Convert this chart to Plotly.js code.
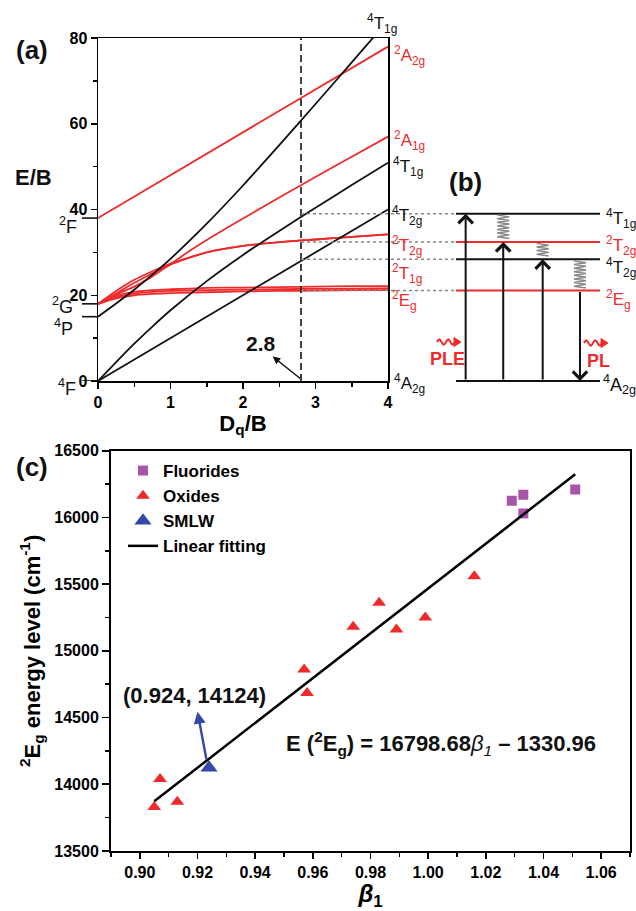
<!DOCTYPE html>
<html><head><meta charset="utf-8">
<script src="https://cdn.plot.ly/plotly-3.0.1.min.js"></script>
<style>html,body{margin:0;padding:0;background:#fff;}#plot{width:636px;height:911px;}</style>
</head><body><div id="plot"></div>
<script>
// ================= DATA =================
// (a) Tanabe–Sugano diagram, E/B vs Dq/B
const xQ = [0, 0.25, 0.5, 0.75, 1, 1.5, 2, 2.5, 3, 3.5, 4];
const T1gF = [0, 4.4, 8.7, 12.7, 16.5, 23.3, 29.4, 35.0, 40.4, 45.7, 50.9];     // 4T1g(F)
const T1gP = [15, 18.1, 21.3, 24.8, 28.5, 36.7, 45.6, 55.0, 64.6, 74.3, 84.1];  // 4T1g(P)
const T2gX = [0, 4];
const T2g = [0, 40];                                                            // 4T2g
const A2gX = [0, 4];
const A2g = [38, 78];                                                           // 2A2g
const xA1 = [0, 0.25, 0.5, 0.75, 1, 1.25, 1.5, 2, 2.5, 3, 3.5, 4];
const A1g = [18, 20.4, 22.9, 25.1, 27.3, 30.2, 32.9, 37.9, 42.8, 47.6, 52.3, 57]; // 2A1g
const T2gD = [18, 21.0, 23.6, 25.6, 27.4, 30.0, 31.5, 32.4, 33.0, 33.6, 34.2];  // 2T2g
const T2gD2 = [18, 20.2, 22.0, 24.4, 27.1, 30.0, 31.5, 32.4, 33.0, 33.6, 34.2];
const T1gD = [18, 19.9, 20.8, 21.2, 21.4, 21.7, 21.8, 21.9, 22.0, 22.1, 22.1];  // 2T1g
const T1gD2 = [18, 19.6, 20.4, 20.8, 21.0, 21.2, 21.3, 21.4, 21.5, 21.5, 21.6];
const EgD = [18, 19.3, 20.0, 20.3, 20.5, 20.7, 20.9, 21.0, 21.1, 21.2, 21.2];   // 2Eg
const dqCut = 2.8;
const freeIon = ['<sup>2</sup>F', '<sup>2</sup>G', '<sup>4</sup>P', '<sup>4</sup>F'];
const freeIonE = [38, 18, 15, 0];
const rightTerms = ['<sup>4</sup>T<sub>1g</sub>', '<sup>2</sup>A<sub>2g</sub>', '<sup>2</sup>A<sub>1g</sub>', '<sup>4</sup>T<sub>1g</sub>', '<sup>4</sup>T<sub>2g</sub>', '<sup>2</sup>T<sub>2g</sub>', '<sup>2</sup>T<sub>1g</sub>', '<sup>2</sup>E<sub>g</sub>', '<sup>4</sup>A<sub>2g</sub>'];

// (b) energy levels at Dq/B = 2.8
const levelNames = ['<sup>4</sup>T<sub>1g</sub>', '<sup>2</sup>T<sub>2g</sub>', '<sup>4</sup>T<sub>2g</sub>', '<sup>2</sup>E<sub>g</sub>', '<sup>4</sup>A<sub>2g</sub>'];
const levelE = [39.0, 32.4, 28.4, 21.1, 0];

// (c) 2Eg energy vs beta1
const fluorX = [1.029, 1.033, 1.033, 1.051];
const fluorY = [16125, 16170, 16030, 16210];
const oxideX = [1.016, 0.983, 0.974, 0.989, 0.999, 0.957, 0.958, 0.907, 0.905, 0.913];
const oxideY = [15560, 15360, 15180, 15160, 15250, 14860, 14685, 14040, 13830, 13870];
const smlwX = [0.924];
const smlwY = [14124];
const fitX = [0.905, 1.051];
const fitY = [13872, 16324];

// ================= STYLE / LAYOUT =================
const W = 636, H = 911;
const PX = v => v / W, PY = v => 1 - v / H;
const FONT = 'Liberation Sans, Arial, sans-serif';
const RED = '#ee2b2b', BLK = '#111111', GRAY = '#888888';
const levelColor = [BLK, RED, BLK, RED, BLK];
const rightColor = [BLK, RED, RED, BLK, BLK, RED, RED, RED, BLK];
const rightPos = [[365, 24], [392, 56], [392, 140], [391, 167], [390, 216], [390, 245], [390, 273], [390, 300], [392, 383]];
const freePos = [[79, 226], [75, 305], [75, 327], [78, 387]];
const levelLabelPos = [219, 246, 268, 299, 384];

const traces = [];
function la(x, y, color) {
  traces.push({x: x, y: y, xaxis: 'x', yaxis: 'y', mode: 'lines', showlegend: false, hoverinfo: 'skip',
    line: {color: color, width: 1.8, shape: 'spline', smoothing: 0.6}});
}
la(xQ, EgD, RED); la(xQ, T1gD2, RED); la(xQ, T1gD, RED);
la(xQ, T2gD2, RED); la(xQ, T2gD, RED); la(xA1, A1g, RED); la(A2gX, A2g, RED);
la(T2gX, T2g, BLK); la(xQ, T1gF, BLK); la(xQ, T1gP, BLK);
traces.push({x: [dqCut, dqCut], y: [0, 80], xaxis: 'x', yaxis: 'y', mode: 'lines', showlegend: false, hoverinfo: 'skip',
  line: {color: BLK, width: 1.6, dash: '7px,4px'}});

// panel (b) level lines
levelE.forEach((e, i) => {
  traces.push({x: [0, 1], y: [e, e], xaxis: 'x2', yaxis: 'y2', mode: 'lines', showlegend: false, hoverinfo: 'skip',
    line: {color: levelColor[i], width: 2}});
});

// panel (c)
traces.push({x: fluorX, y: fluorY, xaxis: 'x3', yaxis: 'y3', mode: 'markers', name: 'Fluorides',
  marker: {symbol: 'square', size: 10, color: '#a854a8'}});
traces.push({x: oxideX, y: oxideY, xaxis: 'x3', yaxis: 'y3', mode: 'markers', name: 'Oxides',
  marker: {symbol: 'triangle-up', size: 12, color: '#f02a2a'}});
traces.push({x: smlwX, y: smlwY, xaxis: 'x3', yaxis: 'y3', mode: 'markers', name: 'SMLW',
  marker: {symbol: 'triangle-up', size: 15, color: '#3448a8'}});
traces.push({x: fitX, y: fitY, xaxis: 'x3', yaxis: 'y3', mode: 'lines', name: 'Linear fitting',
  line: {color: '#000', width: 2.5}});

// shapes
const shapes = [];
const xCutPx = 98 + dqCut * (290 / 4);
levelE.slice(0, 4).forEach(e => {
  shapes.push({type: 'line', xref: 'paper', yref: 'y', x0: PX(xCutPx), x1: PX(456), y0: e, y1: e,
    line: {color: GRAY, width: 1.5, dash: 'dot'}});
});
freeIonE.forEach(e => {
  shapes.push({type: 'line', xref: 'paper', yref: 'y', x0: PX(82), x1: PX(98), y0: e, y1: e,
    line: {color: BLK, width: 1.6}});
});
// non-radiative relaxation zigzags (decoration)
const arrowX = [0.067, 0.328, 0.602, 0.861];
function zig(cx, eTop, eBot) {
  const amp = 6 / 144, step = 1.8 / 4.2875;
  let p = 'M' + (cx - amp) + ',' + eTop;
  let e = eTop, s = 1;
  while (e - step > eBot) { e -= step; p += ' L' + (cx + s * amp) + ',' + e; s = -s; }
  return p;
}
shapes.push({type: 'path', xref: 'x2', yref: 'y2', path: zig(arrowX[1], levelE[0] - 0.3, levelE[1] + 0.6), line: {color: GRAY, width: 1.5}});
shapes.push({type: 'path', xref: 'x2', yref: 'y2', path: zig(arrowX[2], levelE[1] - 0.3, levelE[2] + 0.4), line: {color: GRAY, width: 1.5}});
shapes.push({type: 'path', xref: 'x2', yref: 'y2', path: zig(arrowX[3], levelE[2] - 0.4, levelE[3] + 0.6), line: {color: GRAY, width: 1.5}});
// red squiggly photon arrows (decoration, paper coords)
function squiggle(x0, y0) {
  const L = 18, A = 2.6;
  let p = 'M' + PX(x0) + ',' + PY(y0);
  for (let k = 1; k <= 24; k++) {
    const t = k / 24;
    p += ' L' + PX(x0 + t * L) + ',' + PY(y0 - A * Math.sin(2 * Math.PI * 2 * t));
  }
  shapes.push({type: 'path', xref: 'paper', yref: 'paper', path: p, line: {color: RED, width: 2}});
  const hx = x0 + L;
  shapes.push({type: 'path', xref: 'paper', yref: 'paper', fillcolor: RED, line: {color: RED, width: 1},
    path: 'M' + PX(hx - 1) + ',' + PY(y0 - 4.5) + ' L' + PX(hx + 6) + ',' + PY(y0) + ' L' + PX(hx - 1) + ',' + PY(y0 + 4.5) + ' Z'});
}
squiggle(437, 342);
squiggle(584, 343);

// annotations
const ann = [];
function txt(x, y, text, size, color, opts) {
  ann.push(Object.assign({xref: 'paper', yref: 'paper', x: PX(x), y: PY(y), text: text, showarrow: false,
    xanchor: 'center', yanchor: 'middle', font: {family: FONT, size: size, color: color || BLK}}, opts || {}));
}
txt(32, 50, '<b>(a)</b>', 26);
txt(465, 182, '<b>(b)</b>', 26);
txt(32, 467, '<b>(c)</b>', 26);
txt(33, 177, '<b>E/B</b>', 22);
freeIon.forEach((t, i) => txt(freePos[i][0], freePos[i][1], t, 18, BLK, {xanchor: 'right'}));
rightTerms.forEach((t, i) => txt(rightPos[i][0], rightPos[i][1], t, 17, rightColor[i], {xanchor: 'left'}));
levelNames.forEach((t, i) => txt(i === 4 ? 601 : 604, levelLabelPos[i], t, i === 4 ? 18 : 17, levelColor[i], {xanchor: 'left'}));
txt(447, 359, '<b>PLE</b>', 18, RED);
txt(598, 361, '<b>PL</b>', 18, RED);
// 2.8 marker
ann.push({xref: 'x', yref: 'y', x: 2.245, y: 8.8, text: '<b>2.8</b>', showarrow: false, font: {family: FONT, size: 21, color: BLK}});
ann.push({xref: 'x', yref: 'y', x: 2.41, y: 5.7, axref: 'x', ayref: 'y', ax: 2.81, ay: 0.3, text: '', showarrow: true,
  arrowhead: 2, arrowsize: 1, arrowwidth: 1.5, arrowcolor: BLK});
// panel b transitions
[0, 1, 2].forEach(i => {
  ann.push({xref: 'x2', yref: 'y2', axref: 'x2', ayref: 'y2', x: arrowX[i], y: levelE[i], ax: arrowX[i], ay: levelE[4],
    text: '', showarrow: true, arrowhead: 4, arrowsize: 1.4, arrowwidth: 2, arrowcolor: BLK});
});
ann.push({xref: 'x2', yref: 'y2', axref: 'x2', ayref: 'y2', x: arrowX[3], y: levelE[4], ax: arrowX[3], ay: levelE[3],
  text: '', showarrow: true, arrowhead: 4, arrowsize: 1.4, arrowwidth: 2, arrowcolor: BLK});
// panel c
ann.push({xref: 'x3', yref: 'y3', x: 0.919, y: 14666, text: '<b>(' + smlwX[0].toFixed(3) + ', ' + smlwY[0] + ')</b>', showarrow: false,
  font: {family: FONT, size: 22, color: BLK}});
ann.push({xref: 'x3', yref: 'y3', axref: 'x3', ayref: 'y3', x: 0.920, y: 14544, ax: 0.9232, ay: 14175, text: '', showarrow: true,
  arrowhead: 2, arrowsize: 1, arrowwidth: 2.4, arrowcolor: '#3448a8'});
ann.push({xref: 'x3', yref: 'y3', x: 1.0043, y: 14309,
  text: '<b>E (<sup>2</sup>E<sub>g</sub>) = 16798.68</b><i>β</i><sub><i>1</i></sub><b> – 1330.96</b>', showarrow: false,
  font: {family: FONT, size: 22, color: BLK}});

const axBase = {showgrid: false, zeroline: false, showline: true, linecolor: '#000', mirror: true, ticks: 'outside',
  tickcolor: '#000', automargin: false, fixedrange: true};
const layout = {
  width: W, height: H, margin: {l: 0, r: 0, t: 0, b: 0}, paper_bgcolor: '#fff', plot_bgcolor: 'rgba(0,0,0,0)',
  font: {family: FONT, color: '#000'},
  xaxis: Object.assign({}, axBase, {domain: [PX(98), PX(388)], range: [0, 4], anchor: 'y', dtick: 1, tick0: 0,
    ticklen: 6, tickwidth: 1.5, linewidth: 1.5, minor: {dtick: 0.5, ticklen: 4, tickwidth: 1.5, ticks: 'outside', tickcolor: '#000'},
    tickfont: {family: FONT, size: 16, weight: 'bold'},
    title: {text: '<b>D<sub>q</sub>/B</b>', font: {family: FONT, size: 22}, standoff: 2}}),
  yaxis: Object.assign({}, axBase, {domain: [PY(381), PY(38)], range: [0, 80], anchor: 'x', dtick: 20, tick0: 0,
    ticklen: 6, tickwidth: 1.5, linewidth: 1.5, minor: {dtick: 10, ticklen: 4, tickwidth: 1.5, ticks: 'outside', tickcolor: '#000'},
    tickfont: {family: FONT, size: 16, weight: 'bold'}}),
  xaxis2: {domain: [PX(456), PX(600)], range: [0, 1], anchor: 'y2', visible: false, fixedrange: true},
  yaxis2: {domain: [PY(381 + 5 * 4.2875), PY(38)], range: [-5, 80], anchor: 'x2', visible: false, fixedrange: true},
  xaxis3: Object.assign({}, axBase, {domain: [PX(111), PX(630)], range: [0.89, 1.07], anchor: 'y3', dtick: 0.02, tick0: 0.9,
    tickformat: '.2f', ticklen: 6, tickwidth: 1.8, linewidth: 2,
    minor: {dtick: 0.01, ticklen: 4, tickwidth: 1.5, ticks: 'outside', tickcolor: '#000'},
    tickfont: {family: FONT, size: 16, weight: 'bold'},
    title: {text: '<b><i>β</i><sub>1</sub></b>', font: {family: FONT, size: 24}, standoff: 3}}),
  yaxis3: Object.assign({}, axBase, {domain: [PY(851), PY(450.7)], range: [13500, 16500], anchor: 'x3', dtick: 500, tick0: 13500,
    tickformat: 'd', ticklen: 7, tickwidth: 1.8, linewidth: 2,
    minor: {dtick: 250, ticklen: 4, tickwidth: 1.5, ticks: 'outside', tickcolor: '#000'},
    tickfont: {family: FONT, size: 16, weight: 'bold'},
    title: {text: '<b><sup>2</sup>E<sub>g</sub> energy level (cm<sup>-1</sup>)</b>', font: {family: FONT, size: 22}, standoff: 8}}),
  showlegend: true,
  legend: {x: PX(123), y: PY(453), xanchor: 'left', yanchor: 'top', bgcolor: 'rgba(0,0,0,0)', borderwidth: 0,
    font: {family: FONT, size: 17, weight: 'bold'}, tracegroupgap: 0},
  shapes: shapes, annotations: ann
};
Plotly.newPlot('plot', traces, layout, {displayModeBar: false, staticPlot: true});
</script></body></html>
